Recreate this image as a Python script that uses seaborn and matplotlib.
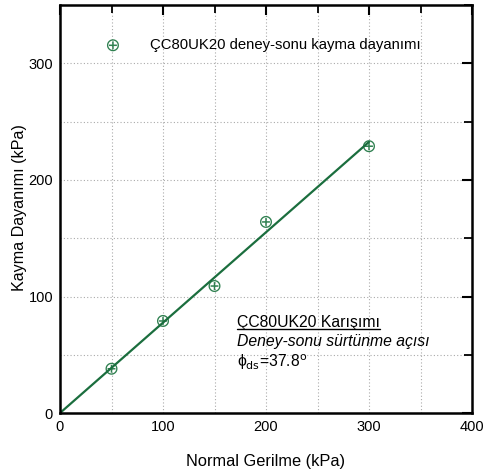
import numpy as np
import pandas as pd
import seaborn as sns
import matplotlib
matplotlib.use("Agg")
import matplotlib.pyplot as plt
from matplotlib.ticker import MultipleLocator
from matplotlib.lines import Line2D

# Data
normal_stress = [50, 100, 150, 200, 300]
shear_strength = [38, 79, 109, 164, 229]
phi_deg = 37.8
fit_x = [0, 300]
legend_label = "ÇC80UK20 deney-sonu kayma dayanımı"
x_label = "Normal Gerilme (kPa)"
y_label = "Kayma Dayanımı (kPa)"

sns.set_style("white")
plt.rcParams['font.family'] = ['Liberation Sans', 'DejaVu Sans']
plt.rcParams['text.color'] = 'black'
plt.rcParams['axes.labelcolor'] = 'black'
plt.rcParams['xtick.color'] = 'black'
plt.rcParams['ytick.color'] = 'black'
line_green = "#1b6e3e"
marker_green = "#2f8050"

fig = plt.figure(figsize=(5, 4.75), dpi=100)
ax = fig.add_axes([0.12, 0.1305, 0.824, 0.8585])

df = pd.DataFrame({"x": normal_stress, "y": shear_strength})
fit = pd.DataFrame({"x": fit_x, "y": [v * np.tan(np.radians(phi_deg)) for v in fit_x]})
sns.lineplot(data=fit, x="x", y="y", ax=ax, color=line_green, lw=1.6, legend=False)
sns.scatterplot(data=df, x="x", y="y", ax=ax, marker="$\\oplus$", s=75,
                color=marker_green, edgecolor="none", linewidth=0, label=legend_label)

ax.set_xlim(0, 400)
ax.set_ylim(0, 350)
ax.xaxis.set_major_locator(MultipleLocator(100))
ax.xaxis.set_minor_locator(MultipleLocator(50))
ax.yaxis.set_major_locator(MultipleLocator(100))
ax.yaxis.set_minor_locator(MultipleLocator(50))
ax.grid(True, which="both", linestyle=(0, (1, 2)), color="#aaaaaa", lw=0.8)
ax.tick_params(which="both", direction="in", top=True, right=True, labelsize=10.5, pad=5)
ax.tick_params(which="major", length=7, width=1.5)
ax.tick_params(which="minor", length=6, width=1.3)
for s in ax.spines.values():
    s.set_linewidth(1.8)
    s.set_color("black")
ax.set_xlabel(x_label, fontsize=11.8)
ax.set_ylabel(y_label, fontsize=11.6)
ax.xaxis.set_label_coords(0.5, -0.1)
ax.yaxis.set_label_coords(-0.08, 0.505)

leg = ax.legend(loc="upper left", bbox_to_anchor=(0.06, 0.952), frameon=False,
                fontsize=10.7, handletextpad=1.5, markerscale=1.0)

t1 = ax.text(0.43, 0.211, "ÇC80UK20 Karışımı", transform=ax.transAxes, fontsize=11.3)
ax.text(0.43, 0.165, "Deney-sonu sürtünme açısı", transform=ax.transAxes,
        fontsize=11.3, style="italic")
ax.text(0.43, 0.112, "ϕ$_{\\rm ds}$=37.8$^{\\rm o}$", transform=ax.transAxes, fontsize=11.3)

fig.canvas.draw()
bb = t1.get_window_extent()
inv = fig.transFigure.inverted()
(x0, y0), (x1, _) = inv.transform([(bb.x0, bb.y0 + 1), (bb.x1, bb.y0)])
fig.add_artist(Line2D([x0, x1], [y0, y0], transform=fig.transFigure, color="black", lw=1))

fig.savefig("out.png", dpi=100)
